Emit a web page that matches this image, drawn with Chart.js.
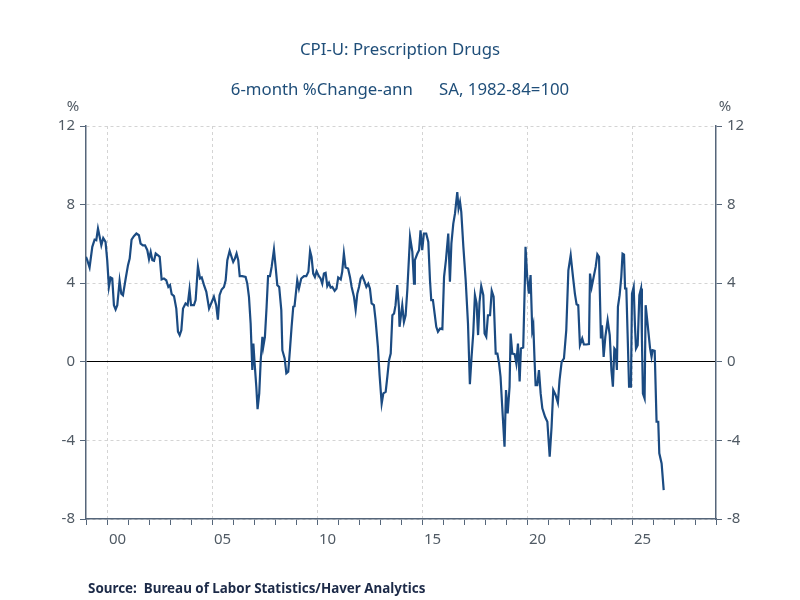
<!DOCTYPE html>
<html>
<head>
<meta charset="utf-8">
<script src="https://cdn.jsdelivr.net/npm/chart.js@4.4.1/dist/chart.umd.min.js"></script>
<style>
  body { margin: 0; background: #fff; }
  #wrap { position: relative; width: 800px; height: 600px; font-family: "Noto Sans", sans-serif; }
  #wrap canvas { position: absolute; left: 0; top: 0; }
  .txt { position: absolute; white-space: pre; line-height: 1; }
  .title { left: 0; width: 800px; text-align: center; top: 41px; font-size: 16.8px; color: #1f4e79; }
  .subtitle { left: 0; width: 800px; text-align: center; top: 81px; font-size: 16.8px; color: #1f4e79; }
  .unit { top: 98px; font-size: 15px; color: #505a64; width: 20px; text-align: center; }
  .source { left: 88px; top: 582px; font-size: 13.4px; font-weight: bold; color: #1c2a48; }
</style>
</head>
<body>
<div id="wrap">
  <canvas id="chart" width="800" height="600"></canvas>
  <div class="txt title">CPI-U: Prescription Drugs</div>
  <div class="txt subtitle">6-month %Change-ann      SA, 1982-84=100</div>
  <div class="txt unit" style="left:63px">%</div>
  <div class="txt unit" style="left:715px">%</div>
  <div class="txt source">Source:  Bureau of Labor Statistics/Haver Analytics</div>
</div>
<script>
// 読み取った値（年は小数表記）
const dates = [
  1999.00, 1999.06, 1999.17, 1999.30, 1999.41, 1999.49, 1999.57, 1999.65, 1999.73, 1999.82, 1999.93,
  2000.01, 2000.09, 2000.17, 2000.25, 2000.33, 2000.41, 2000.49, 2000.60, 2000.68, 2000.76, 2000.89,
  2001.00, 2001.08, 2001.17, 2001.28, 2001.40, 2001.52, 2001.60, 2001.71, 2001.81, 2001.92,
  2002.00, 2002.08, 2002.16, 2002.24, 2002.32, 2002.43, 2002.51, 2002.60, 2002.71, 2002.82, 2002.92,
  2003.00, 2003.08, 2003.19, 2003.30, 2003.38, 2003.46, 2003.54, 2003.62, 2003.74, 2003.84, 2003.93,
  2004.00, 2004.14, 2004.22, 2004.33, 2004.43, 2004.51, 2004.62, 2004.73, 2004.86, 2004.97,
  2005.09, 2005.20, 2005.28, 2005.36, 2005.46, 2005.57, 2005.65, 2005.73, 2005.84, 2005.93,
  2006.01, 2006.09, 2006.17, 2006.25, 2006.32, 2006.44, 2006.60, 2006.68, 2006.76, 2006.84, 2006.92, 2006.97,
  2007.03, 2007.11, 2007.17, 2007.25, 2007.32, 2007.40, 2007.44, 2007.52, 2007.60, 2007.67, 2007.76, 2007.84, 2007.95,
  2008.03, 2008.11, 2008.20, 2008.30, 2008.35, 2008.46, 2008.54, 2008.63, 2008.71, 2008.79, 2008.87, 2008.93,
  2009.06, 2009.14, 2009.25, 2009.38, 2009.49, 2009.59, 2009.67, 2009.74, 2009.82, 2009.90, 2009.98,
  2010.09, 2010.17, 2010.25, 2010.33, 2010.41, 2010.49, 2010.57, 2010.65, 2010.73, 2010.84, 2010.93,
  2011.01, 2011.13, 2011.20, 2011.28, 2011.36, 2011.48, 2011.57, 2011.65, 2011.76, 2011.84, 2011.92,
  2012.00, 2012.08, 2012.16, 2012.24, 2012.35, 2012.44, 2012.52, 2012.60, 2012.71, 2012.79, 2012.90, 2012.98,
  2013.08, 2013.16, 2013.27, 2013.35, 2013.43, 2013.51, 2013.59, 2013.67, 2013.74, 2013.82, 2013.90, 2013.93,
  2014.06, 2014.14, 2014.22, 2014.30, 2014.43, 2014.54, 2014.62, 2014.66, 2014.78, 2014.86, 2014.93,
  2015.01, 2015.09, 2015.20, 2015.30, 2015.38, 2015.44, 2015.52, 2015.60, 2015.68, 2015.76, 2015.86, 2015.97,
  2016.05, 2016.14, 2016.25, 2016.33, 2016.40, 2016.49, 2016.57, 2016.68, 2016.74, 2016.81, 2016.87, 2016.97,
  2017.08, 2017.19, 2017.28, 2017.36, 2017.44, 2017.52, 2017.60, 2017.67, 2017.74, 2017.82, 2017.92, 2017.98,
  2018.06, 2018.14, 2018.24, 2018.32, 2018.41, 2018.51, 2018.59, 2018.67, 2018.74, 2018.82, 2018.93,
  2019.00, 2019.08, 2019.17, 2019.22, 2019.30, 2019.41, 2019.49, 2019.57, 2019.65, 2019.71, 2019.82, 2019.90, 2019.93,
  2020.01, 2020.09, 2020.17, 2020.25, 2020.30, 2020.36, 2020.41, 2020.49, 2020.57, 2020.65, 2020.73, 2020.86, 2020.97,
  2021.08, 2021.17, 2021.25, 2021.36, 2021.47, 2021.55, 2021.65, 2021.76, 2021.87, 2021.97,
  2022.08, 2022.19, 2022.28, 2022.36, 2022.44, 2022.52, 2022.63, 2022.71, 2022.82, 2022.95,
  2023.00, 2023.08, 2023.16, 2023.27, 2023.35, 2023.43, 2023.52, 2023.57, 2023.65, 2023.73, 2023.84, 2023.94,
  2024.02, 2024.09, 2024.16, 2024.22, 2024.28, 2024.33, 2024.41, 2024.49, 2024.55, 2024.62, 2024.67, 2024.73, 2024.79, 2024.86, 2024.95,
  2025.00, 2025.08, 2025.14, 2025.19, 2025.27, 2025.35, 2025.43, 2025.47, 2025.52, 2025.60, 2025.65, 2025.74, 2025.86, 2025.93, 2025.98,
  2026.08, 2026.17, 2026.25, 2026.30, 2026.41, 2026.51
];
const pctChange = [
  5.34, 5.17, 4.80, 5.85, 6.22, 6.19, 6.78, 6.36, 5.93, 6.30, 6.10,
  5.17, 3.81, 4.29, 4.24, 2.88, 2.66, 2.88, 4.12, 3.47, 3.39, 4.24,
  4.92, 5.25, 6.22, 6.39, 6.53, 6.44, 6.02, 5.93, 5.93, 5.68,
  5.22, 5.59, 5.17, 5.14, 5.51, 5.42, 5.34, 4.19, 4.24, 4.15, 3.81,
  3.90, 3.44, 3.34, 2.71, 1.53, 1.36, 1.61, 2.71, 2.97, 2.88, 3.68,
  2.88, 2.88, 3.14, 4.86, 4.24, 4.29, 3.90, 3.56, 2.71, 3.00,
  3.31, 2.88, 2.15, 3.39, 3.68, 3.81, 4.15, 5.17, 5.64, 5.34,
  5.08, 5.25, 5.51, 5.17, 4.36, 4.36, 4.32, 3.98, 3.31, 1.95, -0.42, 0.93,
  -0.08, -1.27, -2.41, -1.61, 0.08, 1.27, 0.76, 1.27, 2.80, 4.36, 4.36, 4.83, 5.71,
  4.83, 3.90, 3.81, 2.63, 0.59, 0.17, -0.59, -0.51, 0.59, 1.78, 2.80, 2.83,
  4.15, 3.73, 4.24, 4.36, 4.36, 4.58, 5.64, 5.34, 4.49, 4.32, 4.61,
  4.36, 4.24, 3.98, 4.49, 4.53, 3.85, 4.02, 3.78, 3.81, 3.61, 3.73,
  4.29, 4.19, 4.58, 5.51, 4.80, 4.75, 4.32, 3.81, 3.31, 2.66, 3.47,
  3.81, 4.24, 4.36, 4.15, 3.81, 3.98, 3.73, 2.97, 2.88, 2.12, 0.76, -0.68,
  -2.12, -1.61, -1.53, -0.76, 0.08, 0.42, 2.37, 2.46, 2.88, 3.90, 2.80, 1.78,
  2.88, 2.03, 2.37, 3.64, 6.36, 5.59, 3.98, 5.17, 5.51, 5.68, 6.69,
  5.68, 6.53, 6.53, 6.10, 4.15, 3.14, 3.14, 2.46, 1.78, 1.53, 1.69, 1.66,
  4.32, 5.17, 6.53, 4.07, 6.02, 7.03, 7.54, 8.64, 7.80, 8.14, 7.63, 5.85,
  4.15, 1.95, -1.14, 0.25, 1.44, 3.39, 2.97, 1.36, 3.05, 3.85, 3.39, 1.44,
  1.27, 2.37, 2.37, 3.61, 3.31, 0.42, 0.42, -0.08, -0.76, -2.29, -4.32,
  -1.44, -2.63, -1.27, 1.44, 0.42, 0.39, -0.08, 0.93, -1.00, 0.68, 0.73, 4.15, 5.85,
  4.32, 3.47, 4.41, 1.61, 1.86, 0.08, -1.19, -1.19, -0.42, -1.61, -2.37, -2.80, -3.05,
  -4.83, -3.31, -1.44, -1.69, -2.08, -0.93, 0.00, 0.17, 1.61, 4.66,
  5.42, 4.32, 3.47, 2.93, 2.88, 0.85, 1.19, 0.88, 0.88, 0.90,
  4.49, 3.81, 4.24, 4.83, 5.47, 5.34, 1.19, 1.86, 0.25, 1.27, 2.12, 1.36,
  -0.42, -1.27, 0.68, 0.59, -0.42, 2.80, 3.39, 4.32, 5.50, 5.45, 3.73, 3.73, 1.44, -1.27, -1.27,
  3.47, 3.81, 1.86, 0.68, 0.85, 3.39, 3.73, 1.27, -1.61, -1.86, 2.88, 1.95, 0.68, 0.25, 0.59,
  0.56, -3.05, -3.05, -4.66, -5.17, -6.53
];

// 軸の目盛り
const yTicks = [-8, -4, 0, 4, 8, 12];
const xLabelYears = [2000, 2005, 2010, 2015, 2020, 2025];
const xMin = 1999;
const xMax = 2029;

const axisColor = "#56667a";
const labelColor = "#505a64";
const gridColor = "#d4d4d4";

const tickFont = { family: "Noto Sans", size: 15 };

function yAxis(position, onArea) {
  return {
    type: "linear",
    position: position,
    min: -8,
    max: 12,
    afterBuildTicks: (scale) => { scale.ticks = yTicks.map(v => ({ value: v })); },
    afterFit: (scale) => { scale.width = 40; },
    ticks: { color: labelColor, font: tickFont, padding: 5 },
    grid: {
      drawOnChartArea: onArea,
      color: (ctx) => (ctx.tick && ctx.tick.value === 0) ? "#000000" : gridColor,
      tickColor: axisColor,
      tickLength: 6,
      tickBorderDash: []
    },
    border: {
      color: axisColor,
      width: 1.5,
      dash: (ctx) => (ctx.tick && ctx.tick.value === 0) ? [] : [3, 3]
    }
  };
}

new Chart(document.getElementById("chart"), {
  type: "line",
  data: {
    datasets: [{
      data: dates.map((d, i) => ({ x: d, y: pctChange[i] })),
      borderColor: "#1b4b82",
      borderWidth: 2.2,
      pointRadius: 0,
      tension: 0,
      xAxisID: "x",
      yAxisID: "y"
    }]
  },
  options: {
    responsive: false,
    animation: false,
    layout: { padding: { left: 46, right: 44, top: 126, bottom: 44 } },
    plugins: { legend: { display: false }, tooltip: { enabled: false } },
    scales: {
      x: {
        type: "linear",
        position: "bottom",
        weight: 0,
        min: xMin,
        max: xMax,
        afterBuildTicks: (scale) => {
          const t = [];
          for (let y = xMin; y <= xMax; y++) t.push({ value: y });
          scale.ticks = t;
        },
        afterFit: (scale) => { scale.height = 7; },
        ticks: { display: false, autoSkip: false },
        grid: {
          color: (ctx) => (ctx.tick && ctx.tick.value % 5 === 0 && ctx.tick.value > xMin && ctx.tick.value < xMax) ? gridColor : "rgba(0,0,0,0)",
          tickColor: axisColor,
          tickLength: 6,
          tickBorderDash: []
        },
        border: { color: axisColor, width: 1.5, dash: [3, 3] }
      },
      x2: {
        type: "linear",
        position: "bottom",
        weight: 1,
        min: xMin,
        max: xMax,
        afterBuildTicks: (scale) => { scale.ticks = xLabelYears.map(y => ({ value: y + 0.5 })); },
        afterFit: (scale) => { scale.height = 30; },
        ticks: {
          color: labelColor,
          font: tickFont,
          padding: 5,
          autoSkip: false,
          maxRotation: 0,
          callback: (v) => String(Math.floor(v) % 100).padStart(2, "0")
        },
        grid: { display: false, drawTicks: false },
        border: { display: false }
      },
      y: yAxis("left", true),
      y2: yAxis("right", false)
    }
  }
});
</script>
</body>
</html>
